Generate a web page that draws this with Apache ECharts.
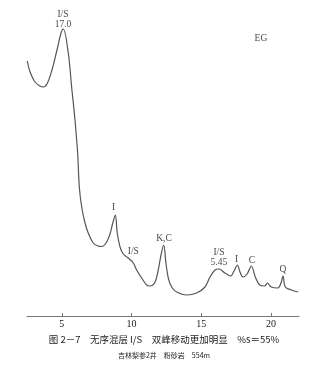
<!DOCTYPE html>
<html><head><meta charset="utf-8">
<script src="https://cdn.jsdelivr.net/npm/echarts@6/dist/echarts.min.js"></script>
<style>html,body{margin:0;padding:0;background:#fff}#c{width:336px;height:367px}</style>
</head><body><div id="c"></div>
<script>
// 2θ (°) positions and relative intensity of the diffraction trace
const twoTheta = [2.52,2.72,3.07,3.43,3.65,3.93,4.29,4.65,4.94,5.10,5.46,5.70,5.94,6.13,6.25,6.42,6.66,6.89,7.25,7.59,7.88,8.21,8.45,8.63,8.83,8.97,9.17,9.40,9.76,10.12,10.36,10.72,11.08,11.32,11.68,11.91,12.08,12.30,12.46,12.63,12.87,13.23,13.95,14.66,15.26,15.62,15.98,16.26,16.69,17.10,17.34,17.59,17.77,17.99,18.28,18.58,18.87,19.18,19.54,19.73,20.01,20.49,20.71,20.85,21.02,21.45,21.93];
const intensity = [255,244,234,230,229,232,246,266,283,287,263,229,196,163,129,109,93,83,73,70,69.5,74,82,92,101,83,69,62,58,53,46,38,31,30,34,46,59,71,53,38,29,24,21,23,29,39,46,47,43,40,45,51,44,39,42,50,39,31,30,33,29,28,33,40,29,26,24];
const tickValues = [5,10,15,20];
const annoText = ['I/S\n17.0','EG','I','I/S','K,C','I/S\n5.45','I','C','Q'];
const annoX = [5.08,19.27,8.70,10.12,12.32,16.26,17.53,18.63,20.85];
const annoY = [297,278,109,64.5,77.7,58.3,56.7,56,46.7];
const caption = '图 2－7　无序混层 I/S　双峰移动更加明显　%s＝55%';
const subCaption = '吉林梨参2井　粉砂岩　554m';

const chart = echarts.init(document.getElementById('c'));
const serif = '"Liberation Serif","DejaVu Serif",serif';
chart.setOption({
  animation:false,
  grid:{left:27,right:37,top:6,bottom:51},
  xAxis:{type:'value',min:2.5,max:22,
    axisLine:{lineStyle:{color:'#777',width:1}},
    axisTick:{show:true,inside:true,length:3,customValues:tickValues,lineStyle:{color:'#777'}},
    axisLabel:{customValues:tickValues,margin:3,fontFamily:serif,fontSize:10,color:'#222'},
    splitLine:{show:false}},
  yAxis:{type:'value',min:0,max:310,show:false},
  series:[{type:'line',data:twoTheta.map((x,i)=>[x,intensity[i]]),smooth:0.35,symbol:'none',
    lineStyle:{color:'#555',width:1.2}},
  {type:'scatter',symbolSize:0,data:annoX.map((x,i)=>[x,annoY[i],annoText[i]]),
    label:{show:true,position:'inside',formatter:p=>p.value[2],fontFamily:serif,fontSize:9.5,lineHeight:10,color:'#111'}}],
  graphic:[
    {type:'text',x:164,y:339,style:{text:caption,textAlign:'center',textVerticalAlign:'middle',font:'9.5px "Noto Sans CJK SC", serif',fill:'#222'}},
    {type:'text',x:164,y:355,style:{text:subCaption,textAlign:'center',textVerticalAlign:'middle',font:'7px "Noto Sans CJK SC", serif',fill:'#222'}}
  ]
});
</script></body></html>
